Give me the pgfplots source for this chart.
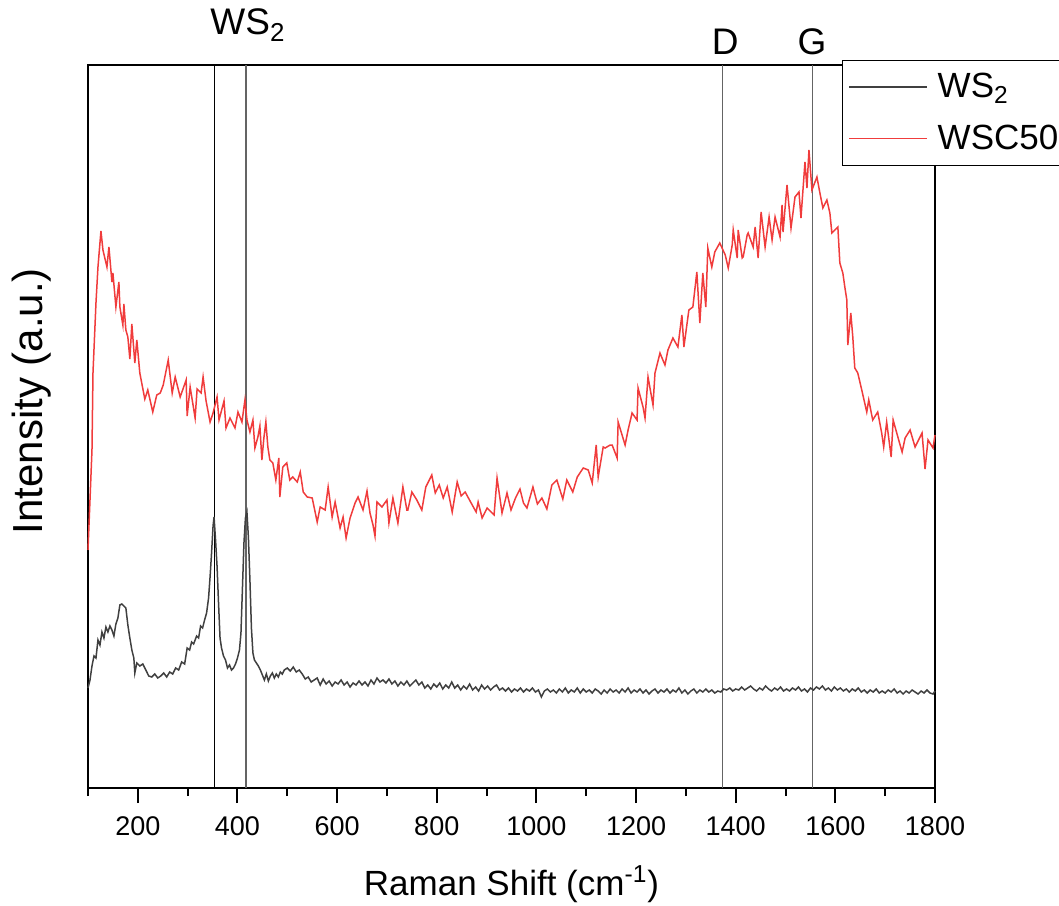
\documentclass[border=0pt]{standalone}
\usepackage{fontspec}
\setmainfont{Liberation Sans}
\usepackage{pgfplots}
\pgfplotsset{compat=1.18}
\definecolor{wsblk}{RGB}{64,64,64}
\definecolor{wsred}{RGB}{240,60,60}
\definecolor{vgray}{RGB}{100,100,100}
\begin{document}
\begin{tikzpicture}
\begin{axis}[
  at={(0pt,0pt)}, anchor=south west,
  scale only axis, width=423.5pt, height=361.5pt,
  xmin=100, xmax=1800, ymin=0, ymax=723,
  ytick=\empty,
  xtick={200,400,...,1800},
  minor xtick={100,300,...,1700},
  xtick pos=bottom,
  tick align=outside,
  major tick length=7.5pt, minor tick length=4pt,
  every tick/.style={black, line width=1pt},
  axis line style={line width=1.2pt, black},
  /pgf/number format/assume math mode=true,
  /pgf/number format/1000 sep={},
  tick label style={font=\fontsize{13.5}{16}\selectfont},
  xticklabel style={yshift=-3.5pt},
  xlabel={Raman Shift (cm\textsuperscript{-1})},
  ylabel={Intensity (a.u.)},
  xlabel style={at={(axis description cs:0.5,-0.133)}, anchor=center, font=\fontsize{17.5}{21}\selectfont},
  ylabel style={at={(axis description cs:-0.066,0.535)}, anchor=center, font=\fontsize{21}{24}\selectfont},
  clip=false,
  legend style={at={(axis description cs:0.890,1.007)}, anchor=north west,
    draw=black, line width=0.5pt, fill=white,
    font=\fontsize{17.5}{20}\selectfont,
    inner xsep=3pt, inner ysep=5pt, row sep=9pt,
    nodes={inner xsep=5pt, inner ysep=1.5pt, anchor=west}},
  legend cell align=left,
  legend image code/.code={\draw[#1, line width=0.7pt] (0pt,0pt) -- (39pt,0pt);},
]
% reference lines
\addplot[black, line width=0.5pt, forget plot] coordinates {(353,0) (353,723)};
\addplot[vgray, line width=0.6pt, forget plot] coordinates {(417,0) (417,723)};
\addplot[vgray, line width=0.6pt, forget plot] coordinates {(1373,0) (1373,723)};
\addplot[vgray, line width=0.6pt, forget plot] coordinates {(1554,0) (1554,723)};
% WS2
\addplot[wsblk, line width=0.75pt] coordinates {
(100,100) (104,108) (108,122) (112,132) (116,130) (120,148) (124,143) (128,156) (132,150) (136,161) (140,156) (144,162) (148,158) (152,152) (156,164) (160,170) (164,183) (168,184) (172,182) (176,180) (180,163) (184,150) (188,138) (192,130) (194,115) (198,125) (204,122) (210,124) (216,118) (222,112) (228,111) (234,114) (240,110) (246,112) (252,115) (258,111) (264,116) (270,114) (276,120) (282,118) (288,126) (294,124) (299,140) (304,138) (308,146) (312,144) (318,152) (322,150) (326,162) (330,160) (334,168) (338,175) (342,190) (345,211) (348,235) (351,262) (353,271) (356,248) (359,222) (362,185) (365,150) (368,140) (372,132) (376,128) (380,120) (384,123) (388,118) (392,120) (396,124) (400,130) (404,138) (407,155) (410,200) (413,245) (416,270) (419,276) (422,250) (425,208) (428,160) (431,135) (434,128) (438,125) (442,122) (446,118) (450,113) (454,108) (458,114) (462,107) (466,112) (470,115) (474,110) (478,114) (482,111) (486,116) (490,114) (494,118) (500,120) (506,117) (512,121) (518,116) (524,118) (530,114) (536,109) (542,111) (548,106) (554,108) (560,110) (566,103) (572,109) (578,104) (584,107) (590,102) (596,106) (602,104) (608,108) (614,103) (620,106) (626,101) (632,105) (638,103) (644,107) (650,103) (656,106) (662,102) (668,108) (674,104) (680,110) (686,106) (692,108) (698,105) (704,109) (710,104) (716,107) (722,102) (728,106) (734,103) (740,107) (746,102) (752,105) (758,108) (764,103) (770,106) (776,100) (782,103) (788,99) (794,104) (800,101) (806,105) (812,99) (818,103) (824,100) (830,106) (836,100) (842,103) (848,98) (854,102) (860,99) (866,104) (872,98) (878,101) (884,97) (890,103) (896,99) (902,102) (908,98) (914,101) (920,103) (926,98) (932,100) (938,97) (944,100) (950,96) (956,99) (962,97) (968,100) (974,96) (980,99) (986,97) (992,100) (998,96) (1004,98) (1010,91) (1016,97) (1022,99) (1028,96) (1034,98) (1040,95) (1046,99) (1052,96) (1058,100) (1064,95) (1070,98) (1076,96) (1082,100) (1088,95) (1094,99) (1100,96) (1106,98) (1112,95) (1118,99) (1124,97) (1130,94) (1136,98) (1142,95) (1148,99) (1154,96) (1160,98) (1166,95) (1172,99) (1178,96) (1184,100) (1190,95) (1196,98) (1202,96) (1208,99) (1214,95) (1220,98) (1226,94) (1232,97) (1238,99) (1244,95) (1250,98) (1256,96) (1262,99) (1268,95) (1274,98) (1280,96) (1286,100) (1292,95) (1298,98) (1304,94) (1310,97) (1316,99) (1322,95) (1328,98) (1334,96) (1340,99) (1346,96) (1352,98) (1358,95) (1364,97) (1370,96) (1376,99) (1382,98) (1388,100) (1394,97) (1400,99) (1406,98) (1412,101) (1418,98) (1424,100) (1430,102) (1436,99) (1442,97) (1448,100) (1454,98) (1460,102) (1466,99) (1472,97) (1478,100) (1484,98) (1490,101) (1496,97) (1502,99) (1508,97) (1514,100) (1520,98) (1526,101) (1532,97) (1538,99) (1544,96) (1550,100) (1556,98) (1562,101) (1568,99) (1574,102) (1580,98) (1586,100) (1592,97) (1598,101) (1604,98) (1610,100) (1616,97) (1622,99) (1628,96) (1634,99) (1640,97) (1646,100) (1652,96) (1658,98) (1664,95) (1670,98) (1676,96) (1682,99) (1688,95) (1694,97) (1700,95) (1706,98) (1712,96) (1718,99) (1724,95) (1730,97) (1736,94) (1742,97) (1748,95) (1754,98) (1760,96) (1766,94) (1772,97) (1778,95) (1784,98) (1790,95) (1796,94) (1800,97)
};
\addlegendentry{WS\textsubscript{2}}
% WSC50
\addplot[wsred, line width=0.75pt] coordinates {
(100,238) (108,338) (110,415) (116,485) (120,521) (126,557) (130,538) (138,521) (142,541) (148,506) (150,515) (156,481) (162,506) (164,481) (170,463) (172,484) (176,458) (180,451) (184,429) (188,464) (194,425) (198,448) (204,415) (214,389) (220,398) (230,376) (238,393) (245,395) (251,403) (261,428) (269,395) (275,411) (285,391) (297,408) (299,372) (305,401) (315,370) (319,399) (327,395) (331,411) (337,387) (345,366) (351,375) (359,391) (363,368) (373,387) (377,360) (385,370) (395,360) (401,376) (409,366) (415,388) (419,368) (425,356) (431,368) (435,340) (441,351) (445,362) (449,328) (453,350) (457,366) (461,341) (465,328) (471,325) (477,308) (483,330) (485,291) (491,321) (499,325) (505,308) (511,311) (520,306) (526,316) (532,296) (540,291) (550,290) (560,266) (566,281) (576,278) (582,301) (590,271) (596,286) (606,260) (612,271) (618,250) (626,270) (636,285) (642,291) (652,278) (660,297) (666,275) (672,263) (676,252) (680,286) (690,281) (700,288) (704,265) (712,290) (722,265) (732,301) (740,278) (742,278) (750,296) (760,288) (770,278) (778,301) (790,313) (797,295) (805,303) (813,290) (821,301) (831,276) (841,306) (849,292) (857,296) (869,285) (879,276) (883,286) (891,270) (901,280) (915,273) (921,310) (931,275) (941,295) (949,278) (958,290) (967,299) (974,285) (981,280) (993,301) (1002,284) (1011,290) (1021,279) (1031,303) (1041,308) (1053,289) (1061,308) (1073,296) (1082,311) (1094,320) (1104,318) (1112,305) (1120,343) (1124,311) (1134,341) (1138,340) (1148,343) (1152,343) (1162,330) (1164,366) (1178,343) (1184,358) (1192,375) (1202,368) (1204,400) (1214,381) (1218,370) (1224,411) (1234,383) (1238,415) (1248,435) (1258,423) (1264,438) (1274,450) (1284,441) (1292,473) (1296,441) (1306,478) (1314,481) (1322,516) (1328,465) (1334,515) (1340,481) (1344,540) (1352,521) (1358,536) (1368,545) (1379,533) (1385,520) (1393,543) (1395,558) (1403,530) (1405,558) (1413,530) (1415,531) (1423,553) (1425,555) (1435,541) (1439,561) (1445,530) (1451,576) (1459,541) (1467,571) (1473,548) (1479,571) (1489,551) (1493,583) (1495,556) (1503,603) (1511,560) (1519,591) (1527,596) (1531,570) (1539,626) (1543,600) (1547,638) (1553,598) (1563,611) (1569,595) (1575,580) (1583,588) (1589,575) (1593,555) (1599,558) (1605,561) (1609,525) (1615,515) (1619,501) (1623,488) (1625,443) (1631,475) (1635,451) (1639,420) (1645,415) (1653,398) (1663,376) (1667,388) (1675,368) (1685,376) (1693,355) (1697,341) (1703,366) (1712,331) (1716,368) (1726,350) (1734,336) (1740,350) (1750,358) (1760,341) (1774,355) (1780,319) (1786,348) (1796,340) (1800,353)
};
\addlegendentry{WSC50}
\node[anchor=base west, font=\fontsize{18.5}{21}\selectfont, inner sep=0pt] at (axis cs:345,753) {WS\textsubscript{2}};
\node[anchor=base, font=\fontsize{18.5}{21}\selectfont, inner sep=0pt] at (axis cs:1379,733) {D};
\node[anchor=base, font=\fontsize{18.5}{21}\selectfont, inner sep=0pt] at (axis cs:1553,733) {G};
\end{axis}
\pgfresetboundingbox
\path (-44pt,-58.5pt) rectangle (485.5pt,394pt);
\end{tikzpicture}
\end{document}
